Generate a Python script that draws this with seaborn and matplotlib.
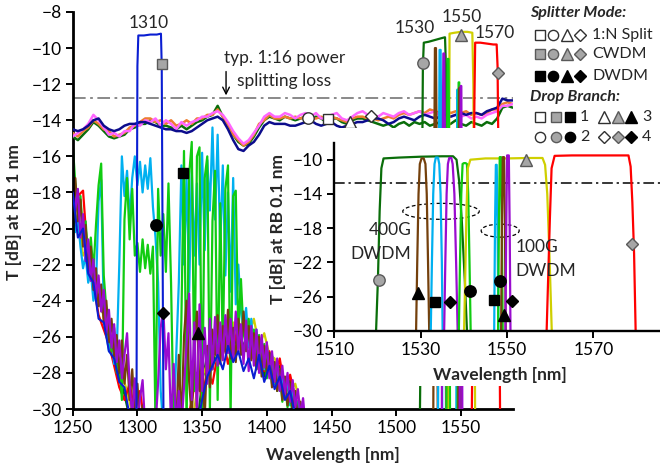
import numpy as np
import matplotlib
matplotlib.use("Agg")
import matplotlib.pyplot as plt
import seaborn as sns
from matplotlib.lines import Line2D
from matplotlib.patches import Rectangle, Ellipse

sns.set_theme(style="ticks")
plt.rcParams["font.family"] = ["Lato", "DejaVu Sans"]

# ---------------- colours ----------------
C_DKGREEN = "#0a6e0a"
C_ORANGE = "#ed7d31"
C_PINK = "#ff66ff"
C_NAVY = "#0c0c8c"
C_BLUE = "#0a1ed2"
C_CYAN = "#00b0f0"
C_GREEN = "#11cc11"
C_BROWN = "#74400c"
C_PURPLE = "#9a0ccf"
C_RED = "#ff0000"
C_YELLOW = "#cfcf00"
C_GRAYFILL = "#a6a6a6"
C_GRAYEDGE = "#595959"

# ---------------- 1:N power split traces (RB 1 nm), 4 nm grid ----------------
SPLIT_WL = np.arange(1250, 1591, 4)
SPLIT_PINK = [
    -14.9, -14.7, -14.5, -14.2, -13.7, -14.0, -14.4, -14.8, -14.7, -14.9,
    -14.6, -14.6, -14.2, -14.3, -14.0, -14.1, -13.9, -14.3, -14.0, -14.2,
    -14.5, -14.1, -14.3, -14.1, -14.0, -13.8, -13.8, -13.6, -13.5, -13.7,
    -14.1, -14.6, -15.0, -15.3, -15.1, -14.7, -14.3, -13.8, -13.6, -13.8,
    -13.8, -13.6, -13.7, -13.9, -13.7, -13.6, -13.8, -13.6, -13.9, -13.9,
    -13.7, -13.6, -13.9, -14.0, -13.8, -13.6, -13.5, -13.7, -13.7, -13.8,
    -13.6, -13.7, -13.8, -13.6, -13.5, -13.7, -13.6, -13.5, -13.7, -13.6,
    -13.5, -13.8, -13.6, -13.8, -13.7, -13.8, -13.7, -13.9, -13.8, -13.9,
    -13.7, -13.6, -13.5, -13.2, -13.2, -13.1]
SPLIT_ORANGE = [
    -14.7, -14.9, -14.6, -14.4, -14.0, -14.2, -14.5, -14.6, -14.9, -14.8,
    -14.7, -14.4, -14.3, -14.1, -13.9, -13.9, -14.1, -14.0, -14.2, -14.0,
    -14.3, -14.2, -14.0, -14.2, -13.9, -13.9, -13.7, -13.7, -13.4, -13.8,
    -14.3, -14.8, -15.1, -15.4, -15.2, -14.8, -14.2, -14.0, -13.7, -13.9,
    -13.9, -13.8, -13.9, -13.8, -13.9, -13.8, -13.9, -13.9, -13.8, -14.0,
    -13.8, -13.9, -14.0, -14.1, -13.9, -13.8, -13.8, -13.9, -13.9, -14.0,
    -13.9, -13.8, -13.9, -13.7, -13.6, -13.7, -13.6, -13.5, -13.6, -13.4,
    -13.5, -13.6, -13.4, -13.6, -13.5, -13.6, -13.5, -13.7, -13.6, -13.7,
    -13.6, -13.4, -13.4, -13.1, -13.0, -13.1]
SPLIT_DKGREEN = [
    -14.9, -15.1, -14.8, -14.5, -14.1, -14.3, -14.6, -14.9, -15.0, -14.9,
    -14.8, -14.5, -14.4, -14.2, -14.2, -14.0, -14.1, -14.3, -14.3, -14.4,
    -14.5, -14.3, -14.5, -14.3, -14.1, -14.0, -13.8, -13.7, -13.2, -13.8,
    -14.3, -14.8, -15.2, -15.4, -15.3, -14.9, -14.4, -14.0, -13.8, -13.9,
    -14.0, -13.8, -13.9, -14.0, -13.9, -13.8, -14.0, -13.8, -13.9, -14.1,
    -13.9, -13.9, -14.1, -14.2, -14.0, -13.9, -13.9, -14.0, -14.1, -14.2,
    -14.3, -14.2, -14.4, -14.2, -14.1, -14.3, -14.1, -14.2, -14.1, -14.3,
    -14.2, -14.1, -14.3, -14.2, -14.0, -14.2, -14.3, -14.1, -14.2, -14.3,
    -14.1, -14.2, -13.9, -13.3, -13.2, -13.3]
SPLIT_NAVY = [
    -14.5, -14.6, -14.5, -14.3, -14.0, -13.9, -14.3, -14.5, -14.6, -14.5,
    -14.3, -14.2, -14.2, -14.1, -14.1, -14.2, -14.3, -14.4, -14.5, -14.5,
    -14.6, -14.6, -14.7, -14.6, -14.4, -14.2, -14.0, -13.9, -13.8, -14.0,
    -14.5, -15.1, -15.6, -15.7, -15.4, -15.2, -14.8, -14.3, -14.1, -14.2,
    -14.2, -14.2, -14.3, -14.3, -14.2, -14.1, -14.0, -14.2, -14.3, -14.2,
    -14.1, -14.3, -14.4, -14.3, -14.2, -14.1, -14.1, -14.0, -13.9, -13.9,
    -14.0, -14.2, -14.1, -13.9, -13.8, -13.9, -14.0, -13.8, -13.7, -13.8,
    -13.9, -13.8, -13.7, -13.8, -13.7, -13.6, -13.7, -13.6, -13.6, -13.7,
    -13.5, -13.4, -13.3, -12.8, -12.9, -12.9]

# ---------------- out-of-band crosstalk (RB 1 nm) ----------------
XT_WL_FINE = np.arange(1250, 1431, 2)
XT_PURPLE = [
    -17.5, -19.0, -17.8, -20.5, -19.2, -21.8, -20.6, -22.9, -21.7, -23.8,
    -22.6, -24.6, -23.4, -25.8, -24.5, -26.6, -25.3, -27.4, -26.2, -28.3,
    -27.0, -25.8, -28.6, -30.5, -28.3, -31.0, -29.4, -28.4, -31.0, -31.0,
    -31.0, -31.0, -31.0, -28.5, -25.5, -24.4, -27.8, -25.8, -31.0, -27.5,
    -31.0, -29.0, -31.0, -28.8, -26.4, -23.6, -29.5, -25.2, -30.5, -24.2,
    -29.0, -25.5, -28.6, -25.0, -27.8, -24.9, -27.6, -25.2, -27.3, -24.8,
    -26.9, -25.0, -27.2, -24.6, -26.8, -25.3, -27.5, -25.1, -27.9, -25.4,
    -27.6, -25.6, -28.0, -25.9, -27.7, -26.3, -28.3, -26.8, -28.5, -27.2,
    -29.0, -27.6, -29.2, -28.0, -29.6, -28.4, -29.9, -28.9, -30.4, -29.4,
    -31.0]
XT_BROWN = [
    -18.5, -17.2, -19.6, -18.4, -21.0, -19.8, -22.3, -21.0, -23.4, -22.2,
    -24.3, -23.1, -25.2, -24.0, -26.3, -25.0, -27.1, -25.9, -28.0, -26.2,
    -28.6, -27.0, -29.5, -27.8, -30.4, -28.6, -31.0, -29.8, -31.0, -31.0,
    -31.0, -31.0, -31.0, -31.0, -31.0, -31.0, -31.0, -31.0, -31.0, -31.0,
    -31.0, -27.0, -31.0, -26.0, -24.0, -28.5, -30.5, -26.8, -24.6, -29.0,
    -27.2, -30.5, -26.5, -28.8, -25.6, -27.0, -24.8, -27.5, -25.4, -26.8,
    -24.5, -27.2, -25.5, -27.4, -25.0, -27.0, -24.6, -26.8, -25.4, -27.3,
    -25.8, -27.8, -26.0, -28.2, -26.5, -28.0, -26.9, -28.8, -27.4, -29.0,
    -27.8, -29.5, -28.2, -29.8, -28.6, -30.2, -29.0, -30.6, -29.6, -31.0,
    -31.0]
XT_GREEN = [
    -15.3, -17.5, -19.0, -18.2, -20.4, -19.6, -21.8, -20.5, -22.4, -19.8,
    -17.6, -16.4, -22.6, -24.5, -25.6, -26.8, -25.5, -28.0, -27.2, -29.5,
    -19.5, -17.2, -20.6, -17.8, -21.5, -20.8, -22.4, -20.6, -22.2, -20.9,
    -22.5, -21.0, -31.0, -17.8, -21.5, -19.2, -22.4, -17.5, -23.0, -31.0,
    -31.0, -31.0, -25.0, -15.7, -31.0, -17.0, -15.2, -29.0, -16.0, -15.5,
    -31.0, -17.2, -16.0, -30.0, -19.6, -16.8, -29.5, -18.6, -27.0, -17.8,
    -16.5, -30.5, -18.2, -17.9, -26.0, -22.8, -25.8, -26.5, -25.0, -27.2,
    -25.6, -27.8, -25.9, -28.0, -26.4, -28.3, -26.9, -28.6, -27.5, -29.0,
    -28.0, -29.6, -28.6, -29.9, -29.1, -30.5, -29.6, -31.0, -30.4, -31.0,
    -31.0]
XT_CYAN = [
    -19.0, -20.2, -19.5, -21.0, -22.2, -21.5, -23.0, -22.4, -24.0, -23.2,
    -18.5, -17.3, -24.6, -25.8, -26.8, -26.0, -27.5, -27.0, -22.0, -16.0,
    -18.2, -16.8, -19.5, -17.2, -16.0, -17.6, -16.3, -18.0, -16.5, -17.8,
    -16.1, -18.8, -20.5, -23.0, -29.0, -31.0, -31.0, -31.0, -31.0, -31.0,
    -27.0, -23.0, -16.5, -22.0, -17.2, -23.5, -16.8, -21.5, -17.5, -22.0,
    -15.8, -21.2, -16.2, -19.0, -14.4, -19.5, -14.8, -21.0, -16.5, -22.6,
    -18.0, -23.5, -17.2, -24.2, -22.0, -24.6, -25.5, -24.4, -26.6, -25.0,
    -27.0, -25.6, -27.5, -26.2, -27.8, -26.5, -28.2, -27.0, -28.6, -27.6,
    -29.0, -28.0, -29.4, -28.5, -29.8, -29.0, -30.3, -29.6, -31.0, -31.0,
    -31.0]
XT_WL_COARSE = np.arange(1250, 1431, 4)
XT_RED = [
    -19.5, -18.2, -17.9, -22.0, -23.0, -24.8, -25.6, -26.4, -27.6, -28.8,
    -29.5, -28.6, -30.2, -29.0, -31.0, -31.0, -31.0, -31.0, -31.0, -31.0,
    -31.0, -31.0, -31.0, -29.5, -28.0, -29.5, -27.8, -28.6, -27.0, -26.0,
    -27.5, -26.5, -25.5, -26.8, -25.2, -27.2, -26.0, -27.9, -26.8, -28.4,
    -27.2, -29.0, -28.1, -29.4, -30.0, -31.0]
XT_YELLOW = [
    -20.0, -19.2, -21.5, -21.0, -23.5, -23.2, -25.0, -25.4, -27.0, -27.3,
    -28.5, -29.6, -31.0, -31.0, -31.0, -31.0, -31.0, -31.0, -31.0, -31.0,
    -31.0, -31.0, -31.0, -31.0, -29.0, -28.2, -27.5, -26.8, -27.2, -25.8,
    -26.4, -25.2, -26.2, -24.8, -25.9, -25.0, -26.5, -25.8, -27.0, -27.2,
    -28.0, -28.4, -29.0, -28.6, -29.8, -31.0]
XT_DKGREEN = [
    -16.5, -18.8, -19.5, -21.2, -22.6, -24.0, -24.8, -26.2, -27.0, -28.2,
    -29.2, -30.5, -31.0, -31.0, -31.0, -31.0, -31.0, -31.0, -31.0, -31.0,
    -31.0, -31.0, -31.0, -31.0, -31.0, -28.5, -27.0, -27.8, -26.2, -27.0,
    -25.6, -26.8, -25.4, -26.6, -25.5, -27.2, -26.2, -28.2, -27.0, -28.6,
    -27.6, -29.2, -28.4, -29.8, -30.5, -31.0]

# CWDM 1310 channel with its crosstalk (RB 1 nm)
CW1310_WL = [1250, 1254, 1258, 1262, 1266, 1270, 1274, 1278, 1282, 1286,
             1290, 1294, 1298, 1299.3, 1299.6, 1300.0, 1300.7, 1305, 1310, 1315,
             1318.2, 1318.8, 1319.3, 1319.8, 1320.2, 1346, 1350, 1354, 1358, 1362,
             1366, 1370, 1374, 1378, 1382, 1386, 1390, 1394, 1398, 1402,
             1406, 1410, 1414, 1418, 1422, 1426]
CW1310_T = [-18.0, -20.5, -20.0, -22.5, -23.0, -25.0, -25.2, -26.8, -27.2, -28.5,
            -28.8, -30.4, -31.0, -31.0, -20.0, -11.0, -9.3, -9.3, -9.25, -9.25,
            -9.2, -11.0, -18.5, -26.0, -31.0, -31.0, -29.5, -28.2, -27.6, -27.0,
            -27.8, -26.5, -27.4, -26.8, -27.9, -27.2, -28.3, -27.0, -28.5, -27.6,
            -28.9, -28.2, -29.5, -29.0, -30.4, -31.0]

# CWDM channels 1530/1550/1570 (RB 1 nm)
CW1530_WL = [1518.2, 1519.5, 1520.6, 1521.3, 1525, 1530, 1535, 1537.7, 1538.4, 1539.2, 1540.0]
CW1530_T = [-31, -22, -11.0, -9.7, -9.65, -9.55, -9.45, -9.4, -11, -20, -31]
CW1550_WL = [1540.2, 1540.7, 1541.2, 1545, 1550, 1555, 1558.8, 1559.6, 1560.4, 1561.0]
CW1550_T = [-31, -20, -9.2, -9.15, -9.1, -9.1, -9.15, -12, -22, -31]
CW1570_WL = [1558.3, 1559.5, 1560.4, 1561.0, 1565, 1570, 1575, 1577.6, 1578.3, 1579.0, 1580.3]
CW1570_T = [-31, -22, -13, -9.7, -9.7, -9.75, -9.8, -9.8, -11, -16, -31]

# DWDM channels seen with RB 1 nm: (wavelength points, transmission points, colour)
DW_MAIN = [
    ([1528.6, 1529.4, 1529.9, 1530.7, 1531.3, 1532.1], [-31, -16, -10.0, -10.0, -16, -31], C_BROWN),
    ([1532.3, 1533.0, 1533.5, 1534.3, 1534.9, 1535.6], [-31, -16, -10.1, -10.1, -16, -31], C_CYAN),
    ([1535.2, 1535.9, 1536.4, 1537.1, 1537.7, 1538.5], [-31, -16, -10.3, -10.3, -16, -31], C_PURPLE),
    ([1538.6, 1539.3, 1539.7, 1540.4, 1540.9, 1541.6], [-31, -16, -10.6, -10.6, -16, -31], C_GREEN),
    ([1546.4, 1546.9, 1547.2, 1547.6, 1547.9, 1548.4], [-31, -18, -12.3, -12.3, -18, -31], C_CYAN),
    ([1547.4, 1547.9, 1548.2, 1548.7, 1549.0, 1549.5], [-31, -18, -11.9, -11.9, -18, -31], C_GREEN),
    ([1548.0, 1548.5, 1548.8, 1549.2, 1549.5, 1550.0], [-31, -18, -12.2, -12.2, -18, -31], C_BROWN),
    ([1549.0, 1549.5, 1549.8, 1550.3, 1550.6, 1551.1], [-31, -18, -12.1, -12.1, -18, -31], C_PURPLE),
]

# ---------------- zoomed spectra (RB 0.1 nm) ----------------
Z_CW1530_WL = [1519.6, 1520.1, 1520.5, 1520.9, 1521.4, 1525, 1530, 1535, 1537.5, 1538.3, 1538.9, 1539.5, 1540.2, 1540.8]
Z_CW1530_T = [-31, -24, -16, -11, -9.85, -9.75, -9.65, -9.6, -9.6, -10.0, -12.5, -17, -24, -31]
Z_CW1550_WL = [1540.0, 1540.3, 1540.6, 1540.9, 1541.5, 1545, 1550, 1555, 1558.2, 1558.8, 1559.3, 1559.8, 1560.4]
Z_CW1550_T = [-31, -24, -16, -11, -10.0, -9.85, -9.85, -9.8, -9.8, -10.6, -14, -21, -31]
Z_CW1570_WL = [1559.1, 1559.5, 1559.9, 1560.3, 1561.0, 1565, 1570, 1575, 1578.1, 1578.6, 1579.0, 1579.4, 1579.8]
Z_CW1570_T = [-31, -24, -17, -11, -9.55, -9.5, -9.5, -9.5, -9.5, -10.8, -15, -21, -31]
Z_400G = [
    ([1528.9, 1529.2, 1529.5, 1529.8, 1530.2, 1530.7, 1531.1, 1531.4, 1531.7, 1532.0], -9.85, C_BROWN),
    ([1532.3, 1532.6, 1532.9, 1533.2, 1533.5, 1534.0, 1534.3, 1534.6, 1534.9, 1535.1], -9.75, C_CYAN),
    ([1535.4, 1535.7, 1536.0, 1536.3, 1536.6, 1537.1, 1537.4, 1537.8, 1538.2, 1538.6], -9.8, C_PURPLE),
    ([1538.8, 1539.1, 1539.4, 1539.7, 1540.0, 1540.4, 1540.7, 1541.0, 1541.3, 1541.6], -10.4, C_GREEN),
]
Z_400G_SHAPE = [-31, -22, -14, -10.5, 0.0, 0.0, -10.5, -14, -22, -31]  # 0.0 -> channel peak
Z_100G = [
    ([1547.0, 1547.2, 1547.4, 1547.6, 1547.8, 1548.0], -10.6, C_CYAN),
    ([1547.9, 1548.1, 1548.3, 1548.6, 1548.8, 1549.0], -9.7, C_GREEN),
    ([1548.6, 1548.8, 1549.0, 1549.3, 1549.5, 1549.7], -9.7, C_BROWN),
    ([1549.6, 1549.8, 1550.0, 1550.4, 1550.6, 1550.8], -9.5, C_PURPLE),
]
Z_100G_SHAPE = [-31, -18, 0.0, 0.0, -18, -31]

SPLIT_LOSS = -12.75

# ---------------- branch markers ----------------
MAIN_MARK_WL = [1432, 1447.5, 1464.3, 1480.3, 1319, 1520.4, 1550, 1578.9, 1335.5, 1314, 1347, 1320]
MAIN_MARK_T = [-13.9, -13.95, -14.1, -13.75, -10.9, -10.8, -9.3, -11.4, -16.9, -19.8, -25.8, -24.7]
MAIN_MARK_BRANCH = [2, 1, 3, 4, 1, 2, 3, 4, 1, 2, 3, 4]
MAIN_MARK_MODE = ["split"] * 4 + ["cwdm"] * 4 + ["dwdm"] * 4
ZOOM_MARK_WL = [1520.3, 1554.4, 1579.0, 1529.3, 1533.4, 1536.7, 1541.5, 1546.9, 1548.4, 1549.4, 1551.1]
ZOOM_MARK_T = [-24.1, -10.0, -19.9, -25.6, -26.7, -26.6, -25.4, -26.4, -24.2, -28.2, -26.5]
ZOOM_MARK_BRANCH = [2, 3, 4, 3, 1, 4, 2, 1, 2, 3, 4]
ZOOM_MARK_MODE = ["cwdm"] * 3 + ["dwdm"] * 8

BRANCH_MARKER = {1: "s", 2: "o", 3: "^", 4: "D"}
BRANCH_SIZE = {1: 7.8, 2: 8.2, 3: 9.2, 4: 6.3}
MODE_STYLE = {"split": ("white", "#303030"), "cwdm": (C_GRAYFILL, C_GRAYEDGE), "dwdm": ("black", "black")}

# ---------------- figure ----------------
W, H = 660, 468
fig = plt.figure(figsize=(W / 100, H / 100), dpi=100)
fig.patch.set_facecolor("white")


def fx(px):
    return px / W


def fy(py):
    return 1 - py / H


def trace(a, x, y, color, lw, z=2):
    sns.lineplot(x=np.asarray(x, float), y=np.asarray(y, float), ax=a, color=color,
                 linewidth=lw, estimator=None, sort=False, legend=False, zorder=z)


def style_axes(a, lw):
    for s in ("top", "right"):
        a.spines[s].set_visible(False)
    for s in ("left", "bottom"):
        a.spines[s].set_linewidth(lw)
        a.spines[s].set_color("black")
    a.tick_params(direction="out", length=5, width=1.4, labelsize=12.5, colors="black", pad=3)
    a.set_facecolor("white")
    a.grid(False)


def put_markers(a, wls, ts, branches, modes):
    for w, t, b, m in zip(wls, ts, branches, modes):
        fc, ec = MODE_STYLE[m]
        a.plot([w], [t], marker=BRANCH_MARKER[b], ms=BRANCH_SIZE[b], mfc=fc, mec=ec,
               mew=1.0, ls="none", zorder=10, clip_on=False)


# main axes
ax = fig.add_axes([fx(72.7), fy(409), fx(512.7) - fx(72.7), fy(12) - fy(409)])
style_axes(ax, 2.0)

for x, y, c in [(XT_WL_COARSE, XT_DKGREEN, C_DKGREEN), (XT_WL_COARSE, XT_YELLOW, C_YELLOW),
                (XT_WL_COARSE, XT_RED, C_RED), (XT_WL_FINE, XT_CYAN, C_CYAN),
                (XT_WL_FINE, XT_GREEN, C_GREEN), (XT_WL_FINE, XT_BROWN, C_BROWN),
                (XT_WL_FINE, XT_PURPLE, C_PURPLE)]:
    trace(ax, x, y, c, 1.6)

for y, c in [(SPLIT_DKGREEN, C_DKGREEN), (SPLIT_ORANGE, C_ORANGE),
             (SPLIT_PINK, C_PINK), (SPLIT_NAVY, C_NAVY)]:
    trace(ax, SPLIT_WL, y, c, 1.8, z=3)

trace(ax, CW1310_WL, CW1310_T, C_BLUE, 1.5, z=4)
trace(ax, CW1530_WL, CW1530_T, C_DKGREEN, 1.6, z=4)
trace(ax, CW1550_WL, CW1550_T, C_YELLOW, 1.6, z=4)
trace(ax, CW1570_WL, CW1570_T, C_RED, 1.6, z=4)
for x, y, c in DW_MAIN:
    trace(ax, x, y, c, 1.6, z=4)

ax.axhline(SPLIT_LOSS, color="#808080", lw=1.3, ls=(0, (7, 2.5, 1.5, 2.5)), zorder=1)
ax.set_xlim(1250, 1590)
ax.set_ylim(-30, -8)
ax.set_xticks(np.arange(1250, 1551, 50))
ax.set_yticks(np.arange(-30, -7, 2))
ax.set_xlabel("Wavelength [nm]", fontsize=12.5, fontweight="bold")
ax.set_ylabel("T [dB] at RB 1 nm", fontsize=12.5, fontweight="bold")
ax.xaxis.set_label_coords(0.592, -0.116)
ax.xaxis.label.set_va("center")
ax.yaxis.set_label_coords(-0.133, 0.496)
ax.yaxis.label.set_va("center")

for txt, x, y in [("1310", 1309, -8.63), ("1530", 1514.6, -8.9),
                  ("1550", 1550.6, -8.26), ("1570", 1576.3, -9.18)]:
    ax.text(x, y, txt, ha="center", va="center", fontsize=12.5, zorder=6, clip_on=False)

ax.text(1367, -10.57, "typ. 1:16 power", ha="left", va="center", fontsize=12.5, zorder=6)
ax.text(1376.7, -11.82, "splitting loss", ha="left", va="center", fontsize=12.5, zorder=6)
ax.annotate("", xy=(1368.5, -12.62), xytext=(1368.5, -11.3),
            arrowprops=dict(arrowstyle="->", color="black", lw=1.0, shrinkA=0, shrinkB=0), zorder=6)

put_markers(ax, MAIN_MARK_WL, MAIN_MARK_T, MAIN_MARK_BRANCH, MAIN_MARK_MODE)

# white backing behind the zoomed panel
fig.add_artist(Rectangle((fx(312), fy(386)), fx(660) - fx(312), fy(128) - fy(386),
                         transform=fig.transFigure, facecolor="white", edgecolor="none", zorder=0.5))

# zoomed panel (RB 0.1 nm)
ax2 = fig.add_axes([fx(334.3), fy(330.7), 1 - fx(334.3), fy(142.6) - fy(330.7)])
ax2.set_zorder(1)
style_axes(ax2, 1.7)

trace(ax2, Z_CW1530_WL, Z_CW1530_T, C_DKGREEN, 1.6)
for x, peak, c in Z_400G:
    trace(ax2, x, [peak if v == 0.0 else v for v in Z_400G_SHAPE], c, 1.6)
trace(ax2, Z_CW1550_WL, Z_CW1550_T, C_YELLOW, 1.6)
for x, peak, c in Z_100G:
    trace(ax2, x, [peak if v == 0.0 else v for v in Z_100G_SHAPE], c, 1.6)
trace(ax2, Z_CW1570_WL, Z_CW1570_T, C_RED, 1.6)

ax2.axhline(SPLIT_LOSS, color="black", lw=1.1, ls=(0, (7, 2.5, 1.5, 2.5)), zorder=1)
ax2.add_patch(Ellipse((1534.7, -16.04), 17.7, 1.87, fill=False, ec="black", lw=0.9, ls=(0, (3, 2))))
ax2.add_patch(Ellipse((1548.4, -18.3), 8.8, 1.52, fill=False, ec="black", lw=0.9, ls=(0, (3, 2))))
ax2.text(1527.9, -18.22, "400G", ha="right", va="center", fontsize=12.5)
ax2.text(1527.9, -21.03, "DWDM", ha="right", va="center", fontsize=12.5)
ax2.text(1552.0, -20.18, "100G", ha="left", va="center", fontsize=12.5)
ax2.text(1552.0, -22.98, "DWDM", ha="left", va="center", fontsize=12.5)

put_markers(ax2, ZOOM_MARK_WL, ZOOM_MARK_T, ZOOM_MARK_BRANCH, ZOOM_MARK_MODE)

ax2.set_xlim(1510, 1585.4)
ax2.set_ylim(-30, -8)
ax2.set_xticks([1510, 1530, 1550, 1570])
ax2.set_yticks(np.arange(-30, -9, 4))
ax2.set_xlabel("Wavelength [nm]", fontsize=12.5, fontweight="bold")
ax2.set_ylabel("T [dB] at RB 0.1 nm", fontsize=12.5, fontweight="bold")
ax2.xaxis.set_label_coords(0.509, -0.236)
ax2.xaxis.label.set_va("center")
ax2.yaxis.set_label_coords(-0.173, 0.54)
ax2.yaxis.label.set_va("center")

# ---------------- marker key ----------------
def key_marker(px, py, branch, mode, scale=0.9):
    fc, ec = MODE_STYLE[mode]
    fig.add_artist(Line2D([fx(px)], [fy(py)], transform=fig.transFigure,
                          marker=BRANCH_MARKER[branch], ms=BRANCH_SIZE[branch] * scale,
                          mfc=fc, mec=ec, mew=1.0, ls="none", zorder=5))


def key_text(px, py, s, **kw):
    fig.text(fx(px), fy(py), s, ha="left", va="center", fontsize=11.5, zorder=5, **kw)


key_text(530, 13.3, "Splitter Mode:", fontweight="bold", fontstyle="italic")
for py, mode, label in [(35, "split", "1:N Split"), (54.3, "cwdm", "CWDM"), (76, "dwdm", "DWDM")]:
    for px, b in zip([540, 553.3, 567.3, 580.3], [1, 2, 3, 4]):
        key_marker(px, py, b, mode)
    key_text(592.5, py, label)

key_text(530.5, 96.7, "Drop Branch:", fontweight="bold", fontstyle="italic")
for py, b_left, n_left, b_right, n_right in [(116.7, 1, "1", 3, "3"), (136.7, 2, "2", 4, "4")]:
    for px, mode in zip([539.5, 555.5, 569.5], ["split", "cwdm", "dwdm"]):
        key_marker(px, py, b_left, mode)
    key_text(580, py, n_left)
    for px, mode in zip([604, 617.5, 631], ["split", "cwdm", "dwdm"]):
        key_marker(px, py, b_right, mode)
    key_text(642, py, n_right)

fig.savefig("out.png", dpi=100, facecolor="white")
